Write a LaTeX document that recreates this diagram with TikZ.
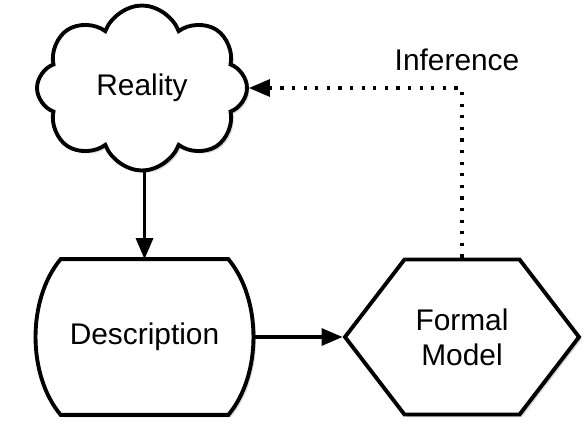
\documentclass[tikz,border=0pt]{standalone}
\usepackage{fontspec}
\setmainfont{Liberation Sans}
\usetikzlibrary{shapes.symbols,shadows,arrows.meta,backgrounds}

\begin{document}
\begin{tikzpicture}[
		block/.style={draw, line width=2.2pt, fill=white, align=center,
			font=\fontsize{17}{20}\selectfont,
			drop shadow={shadow xshift=0.05cm, shadow yshift=-0.05cm, opacity=0.3}},
		flow/.style={line width=1.8pt, -{Triangle[length=0.42cm,width=0.34cm]}}
	]
		\useasboundingbox (0,0) rectangle (11.76,8.62);

		% Shapes
		\node[block, cloud, cloud puffs=8, cloud puff arc=140, cloud ignores aspect,
			minimum width=4.2cm, minimum height=3.3cm, inner sep=0pt] (reality) at (2.84,6.86) {Reality};
		\node[font=\fontsize{17}{20}\selectfont, minimum width=4.34cm, minimum height=3.1cm,
			inner sep=0pt] (desc) at (2.89,1.88) {Description};
		\node[block, signal, signal to=west and east, signal pointer angle=105,
			minimum width=4.68cm, minimum height=3.1cm, inner sep=0pt] (model) at (9.24,1.88) {Formal\\Model};

		% Outline of the description box, bulging sides
		\begin{scope}[on background layer]
			\draw[block] ([xshift=0.5cm]desc.north west) -- ([xshift=-0.5cm]desc.north east)
				.. controls ([xshift=0.17cm,yshift=-0.8cm]desc.north east) and ([xshift=0.17cm,yshift=0.8cm]desc.south east) .. ([xshift=-0.5cm]desc.south east)
				-- ([xshift=0.5cm]desc.south west)
				.. controls ([xshift=-0.17cm,yshift=0.8cm]desc.south west) and ([xshift=-0.17cm,yshift=-0.8cm]desc.north west) .. cycle;
		\end{scope}

		% Connectors
		\draw[flow] (reality.south -| desc.north) -- (desc.north);
		\draw[flow] (desc.east) -- (model.west);
		\draw[flow, dash pattern=on 1.8pt off 4.8pt] (model.north) |- (reality.east)
			node[pos=0.5, xshift=-0.1cm, yshift=0.56cm, font=\fontsize{17}{20}\selectfont] (inference) {Inference};
	\end{tikzpicture}
\end{document}
